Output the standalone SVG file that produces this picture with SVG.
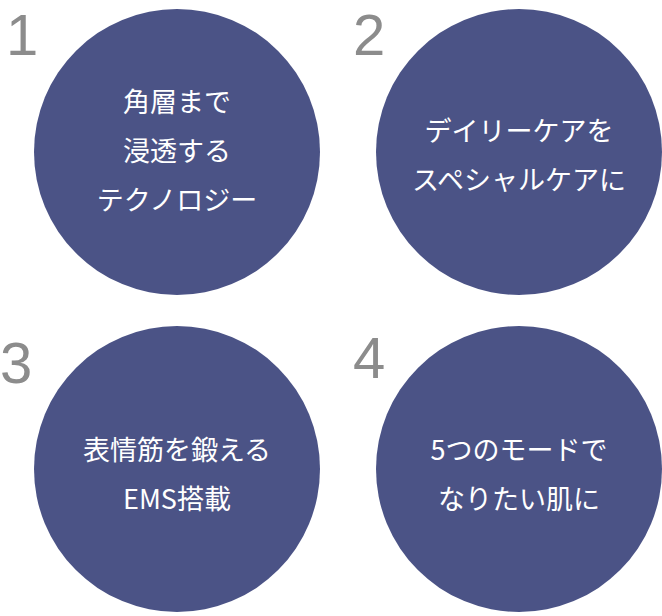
<svg xmlns="http://www.w3.org/2000/svg" width="662" height="616" viewBox="0 0 662 616">
<style>
.c{fill:#4b5386}
.n{font-family:"Liberation Sans","Noto Sans",sans-serif;font-size:58px;fill:#8c8c8c}
.t{font-family:"Noto Sans CJK JP",sans-serif;font-size:27px;fill:#fff;text-anchor:middle}
</style>
<rect width="662" height="616" fill="#fff"/>
<g id="node1"><circle class="c" cx="177" cy="152" r="143"/><text class="n" x="6" y="55">1</text>
<text class="t" x="177" y="112">角層まで</text><text class="t" x="177" y="161">浸透する</text><text class="t" x="177" y="210">テクノロジー</text></g>
<g id="node2"><circle class="c" cx="519" cy="152" r="143"/><text class="n" x="353" y="55">2</text>
<text class="t" x="519" y="141">デイリーケアを</text><text class="t" x="519" y="190">スペシャルケアに</text></g>
<g id="node3"><circle class="c" cx="177" cy="469" r="143"/><text class="n" x="0" y="383">3</text>
<text class="t" x="177" y="460">表情筋を鍛える</text><text class="t" x="177" y="509">EMS搭載</text></g>
<g id="node4"><circle class="c" cx="519" cy="469" r="143"/><text class="n" x="353" y="378">4</text>
<text class="t" x="519" y="460">5つのモードで</text><text class="t" x="519" y="509">なりたい肌に</text></g>
<g id="connectors"></g>
</svg>
